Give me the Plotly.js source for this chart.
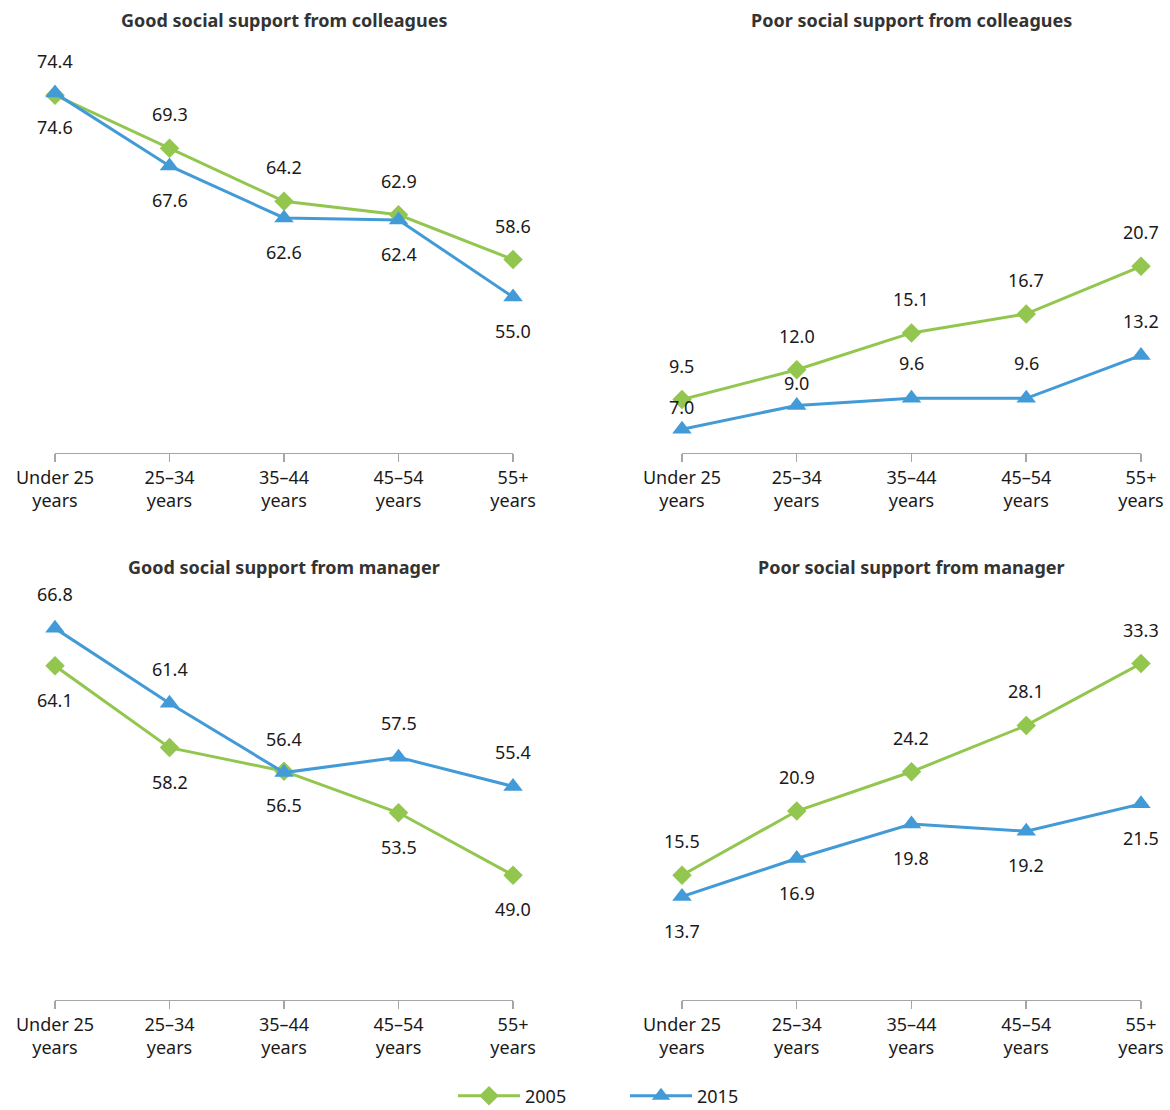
<!DOCTYPE html>
<html>
<head>
<meta charset="utf-8">
<script src="https://cdn.plot.ly/plotly-3.0.1.min.js"></script>
<style>body{margin:0;background:#fff}#chart{width:1170px;height:1110px}</style>
</head>
<body>
<div id="chart"></div>
<script>
// ---- data ----
const categories = ["Under 25<br>years", "25–34<br>years", "35–44<br>years", "45–54<br>years", "55+<br>years"];
const seriesNames = ["2005", "2015"];
const panelTitles = [
  "Good social support from colleagues",
  "Poor social support from colleagues",
  "Good social support from manager",
  "Poor social support from manager"
];
const goodColleagues2005 = [74.4, 69.3, 64.2, 62.9, 58.6];
const goodColleagues2015 = [74.6, 67.6, 62.6, 62.4, 55.0];
const poorColleagues2005 = [9.5, 12.0, 15.1, 16.7, 20.7];
const poorColleagues2015 = [7.0, 9.0, 9.6, 9.6, 13.2];
const goodManager2005 = [64.1, 58.2, 56.5, 53.5, 49.0];
const goodManager2015 = [66.8, 61.4, 56.4, 57.5, 55.4];
const poorManager2005 = [15.5, 20.9, 24.2, 28.1, 33.3];
const poorManager2015 = [13.7, 16.9, 19.8, 19.2, 21.5];

// ---- styling / layout ----
const green = "rgb(146,198,78)";
const blue = "rgb(66,155,214)";
const font = "'Noto Sans', 'Open Sans', sans-serif";
const panels = [
  {d05: goodColleagues2005, d15: goodColleagues2015, range: [40, 80], xa: "x", ya: "y",
   s05: [34,34,34,34,34], s15: [-34,-34,-34,-34,-34], xd: [0.047, 0.4385], yd: [0.5919, 0.9667]},
  {d05: poorColleagues2005, d15: poorColleagues2015, range: [5, 40], xa: "x2", ya: "y2",
   s05: [34,34,34,34,34], s15: [22,22,35,35,35], xd: [0.5829, 0.9752], yd: [0.5919, 0.9667]},
  {d05: goodManager2005, d15: goodManager2015, range: [40, 70], xa: "x3", ya: "y3",
   s05: [-34,-34,-34,-34,-34], s15: [34,34,34,34,34], xd: [0.047, 0.4385], yd: [0.0991, 0.4739]},
  {d05: poorManager2005, d15: poorManager2015, range: [5, 40], xa: "x4", ya: "y4",
   s05: [34,34,34,34,34], s15: [-34,-34,-34,-34,-34], xd: [0.5829, 0.9752], yd: [0.0991, 0.4739]}
];

const xIdx = categories.map((c, i) => i);
const traces = [];
const annotations = [];
const layout = {
  width: 1170, height: 1110,
  margin: {l: 0, r: 0, t: 0, b: 0, autoexpand: false},
  paper_bgcolor: "#fff", plot_bgcolor: "#fff",
  font: {family: font, size: 18, color: "#1a1a1a"},
  showlegend: true,
  legend: {orientation: "h", x: 453 / 1170, xanchor: "left", y: -0.004, yanchor: "bottom",
           font: {size: 18, color: "#1a1a1a"}, itemwidth: 62, entrywidth: 95, entrywidthmode: "pixels",
           traceorder: "normal"},
  annotations: annotations
};

panels.forEach((p, k) => {
  const sfx = k === 0 ? "" : String(k + 1);
  [[p.d05, green, "diamond", 15, p.s05, 0], [p.d15, blue, "triangle-up", 17, p.s15, 1]].forEach(([d, col, sym, sz, shifts, si]) => {
    traces.push({
      x: xIdx, y: d, xaxis: p.xa, yaxis: p.ya, type: "scatter", mode: "lines+markers",
      name: seriesNames[si], legendgroup: seriesNames[si], showlegend: k === 0,
      line: {color: col, width: 3}, marker: {color: col, symbol: sym, size: sz},
      cliponaxis: false, hoverinfo: "skip"
    });
    d.forEach((v, i) => {
      annotations.push({x: i, y: v, xref: p.xa, yref: p.ya, text: v.toFixed(1), showarrow: false,
        yshift: shifts[i], font: {size: 18, color: "#1a1a1a"}});
    });
  });
  layout["xaxis" + sfx] = {
    domain: p.xd, anchor: p.ya, range: [0, 4], tickvals: xIdx, ticktext: categories,
    showgrid: false, zeroline: false, showline: true, linecolor: "#a6a6a6", linewidth: 1.5,
    ticks: "outside", ticklen: 8, tickcolor: "#a6a6a6", tickwidth: 1.5,
    tickfont: {size: 18, color: "#1a1a1a"}, fixedrange: true
  };
  layout["yaxis" + sfx] = {
    domain: p.yd, anchor: p.xa, range: p.range, visible: false, showgrid: false, zeroline: false, fixedrange: true
  };
  annotations.push({
    xref: "paper", yref: "paper", x: (p.xd[0] + p.xd[1]) / 2, y: k < 2 ? 1 - 20 / 1110 : 1 - 567 / 1110,
    text: "<b>" + panelTitles[k] + "</b>", showarrow: false, xanchor: "center", yanchor: "middle",
    font: {size: 18, color: "#333"}
  });
});

Plotly.newPlot("chart", traces, layout, {displayModeBar: false, staticPlot: true});
</script>
</body>
</html>
